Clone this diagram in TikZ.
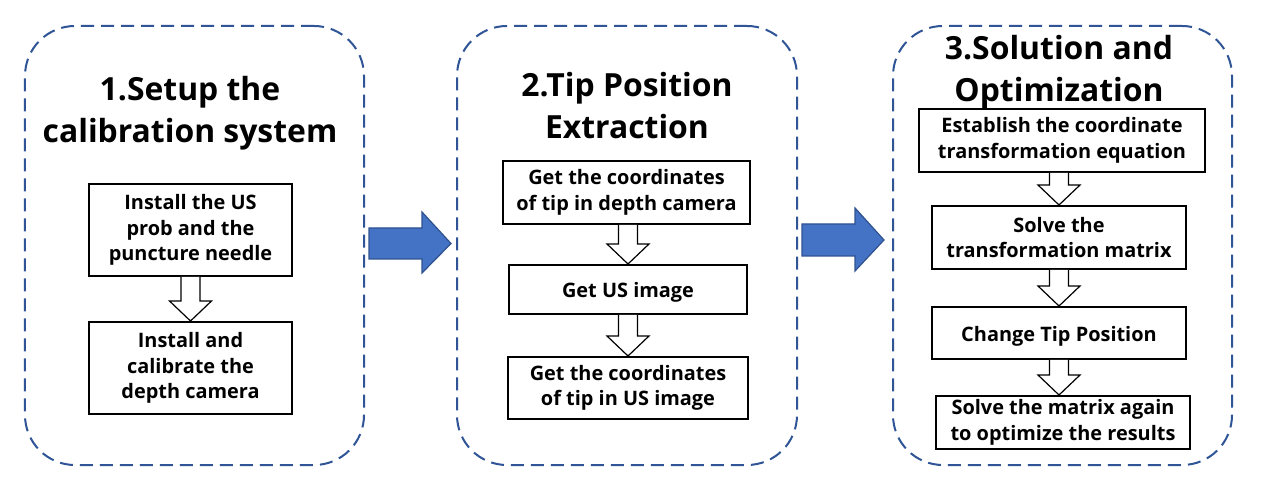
\documentclass[tikz,border=0pt]{standalone}
\usepackage{fontspec}
\setmainfont{Open Sans}
\usetikzlibrary{calc}
\definecolor{dashblue}{HTML}{2F5597}
\definecolor{arrowfill}{HTML}{4472C4}
\definecolor{arrowedge}{HTML}{2F528F}
\tikzset{
  panel/.style={draw=dashblue, line width=2bp, dash pattern=on 13bp off 7bp, rounded corners=50bp, inner sep=0pt},
  titletext/.style={font=\fontsize{32}{42}\selectfont\bfseries, align=center, inner sep=0pt},
  stepbox/.style={draw=black, line width=2bp, inner sep=0pt, font=\fontsize{20}{25.5}\selectfont\bfseries, align=center,
    execute at begin node={\rule{0pt}{21bp}}},
  hollow/.style={draw=black, line width=1.2bp, fill=white, line join=miter},
  bigarrow/.style={draw=arrowedge, fill=arrowfill, line width=1.2bp, line join=miter},
}
% #1 source, #2 target, #3 node giving the x position
\newcommand\hollowarr[3]{%
  \draw[hollow] ($(#1.south -| #3.center)+(-9.5,0)$) -- ($(#2.north -| #3.center)+(-9.5,-20)$)
    -- ($(#2.north -| #3.center)+(-21,-20)$) -- (#2.north -| #3.center)
    -- ($(#2.north -| #3.center)+(21,-20)$) -- ($(#2.north -| #3.center)+(9.5,-20)$)
    -- ($(#1.south -| #3.center)+(9.5,0)$);}
\begin{document}
\begin{tikzpicture}[x=1bp,y=-1bp]
\useasboundingbox (0,0) rectangle (1264,492);
\fill[white] (0,0) rectangle (1264,492);
% panels
\node[panel, minimum width=339bp, minimum height=439bp] (p1) at (194.5,245.5) {};
\node[panel, minimum width=340bp, minimum height=439bp] (p2) at (627,245.5) {};
\node[panel, minimum width=339bp, minimum height=439bp] (p3) at (1062.5,245.5) {};
% titles
\node[titletext] (t1) at (190,113) {1.Setup the\\calibration system};
\node[titletext] (t2) at (627,105.5) {2.Tip Position\\Extraction};
\node[titletext] (t3) at (1059,72) {3.Solution and\\Optimization};
% panel 1 boxes
\node[stepbox, minimum width=203bp, minimum height=92bp] (b11) at (190.5,230) {Install the US\\prob and the\\puncture needle};
\node[stepbox, minimum width=203bp, minimum height=92bp] (b12) at (190.5,368) {Install and\\calibrate the\\depth camera};
% panel 2 boxes
\node[stepbox, minimum width=247bp, minimum height=63bp] (b21) at (626.5,192.5) {Get the coordinates\\of tip in depth camera};
\node[stepbox, minimum width=238bp, minimum height=49bp] (b22) at (628,289.5) {Get US image};
\node[stepbox, minimum width=240bp, minimum height=62bp] (b23) at (628,388) {Get the coordinates\\of tip in US image};
% panel 3 boxes
\node[stepbox, minimum width=286bp, minimum height=63bp] (b31) at (1062,140.5) {Establish the coordinate\\transformation equation};
\node[stepbox, minimum width=254bp, minimum height=63bp] (b32) at (1059,237.5) {Solve the\\transformation matrix};
\node[stepbox, minimum width=254bp, minimum height=52bp] (b33) at (1059,333) {Change Tip Position};
\node[stepbox, minimum width=254bp, minimum height=53bp] (b34) at (1063,422.5) {Solve the matrix again\\to optimize the results};
% hollow arrows
\hollowarr{b11}{b12}{b12}
\hollowarr{b21}{b22}{b22}
\hollowarr{b22}{b23}{b22}
\hollowarr{b31}{b32}{b32}
\hollowarr{b32}{b33}{b33}
\hollowarr{b33}{b34}{b33}
% big arrows between panels
\draw[bigarrow] ($(p1.east)+(4,-17.5)$) -- ($(p1.east)+(57,-17.5)$) -- ($(p1.east)+(57,-33.5)$)
  -- ($(p2.west)+(-5,-2)$) -- ($(p1.east)+(57,27.5)$) -- ($(p1.east)+(57,13.5)$)
  -- ($(p1.east)+(4,13.5)$) -- cycle;
\draw[bigarrow] ($(p2.east)+(4,-21.5)$) -- ($(p2.east)+(57,-21.5)$) -- ($(p2.east)+(57,-37.5)$)
  -- ($(p3.west)+(-8,-5.5)$) -- ($(p2.east)+(57,25.5)$) -- ($(p2.east)+(57,10.5)$)
  -- ($(p2.east)+(4,10.5)$) -- cycle;
\end{tikzpicture}
\end{document}
